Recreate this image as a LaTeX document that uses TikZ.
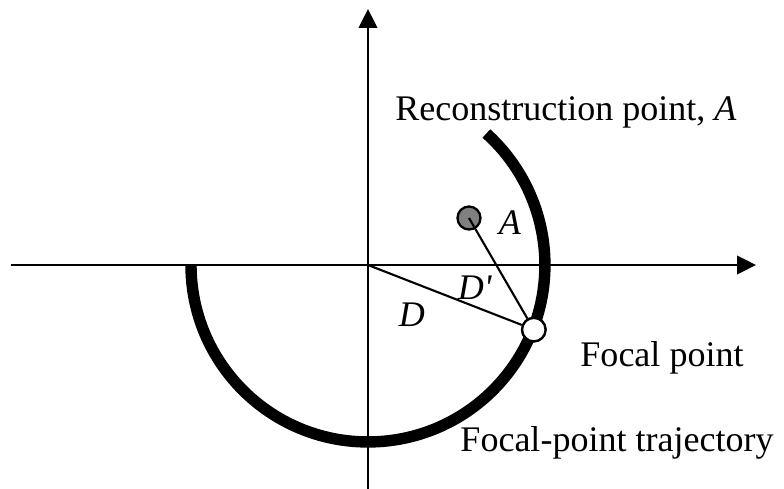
\documentclass[tikz,border=0pt]{standalone}
\usepackage{fontspec}
\setmainfont{Liberation Serif}
\usetikzlibrary{positioning,arrows.meta}

\begin{document}
\begin{tikzpicture}[
    x=0.02cm, y=0.02cm,
    axis/.style={line width=1.3pt, -{Triangle[length=3.8mm, width=3.7mm]}},
    traj/.style={line width=6.5pt, line cap=butt},
    ray/.style={line width=1.2pt},
    lbl/.style={font=\fontsize{20.5}{24}\selectfont, inner sep=0pt},
    recpt/.style={circle, draw, line width=1.3pt, fill=black!50, minimum size=0.46cm, inner sep=0pt},
    focpt/.style={circle, draw, line width=1.3pt, fill=white, minimum size=0.47cm, inner sep=0pt},
]
\useasboundingbox (-368,-224) rectangle (416,265);

% ===== Axes =====
\coordinate (O)  at (0,0);
\coordinate (xl) at (-357,0);
\coordinate (xr) at (388,0);
\coordinate (yb) at (0,-224);
\coordinate (yt) at (0,256);
\draw[axis] (xl) -- (xr);
\draw[axis] (yb) -- (yt);

% ===== Focal-point trajectory =====
\draw[traj] (180:177) arc[start angle=180, end angle=408, radius=3.54cm];

% ===== Points =====
\node[recpt] (A) at (101,47) {};
\node[focpt] (F) at (-21.3:178) {};

% ===== Rays D and D' =====
\draw[ray] (O) -- (F);
\draw[ray] (A.center) -- (F);
\node[focpt] at (F) {};

% ===== Labels =====
\node[lbl, anchor=west] (recl) at (27,153) {Reconstruction point, \textit{A}};
\node[lbl] (al)  at (142,42)  {\textit{A}};
\node[lbl] (dpl) at (107,-23) {\textit{D\textquotesingle}};
\node[lbl] (dl)  at (44,-50)  {\textit{D}};
\node[lbl] (fpl) at (294,-93) {Focal point};
\node[lbl] (trl) at (249,-178) {Focal-point trajectory};

\end{tikzpicture}
\end{document}
